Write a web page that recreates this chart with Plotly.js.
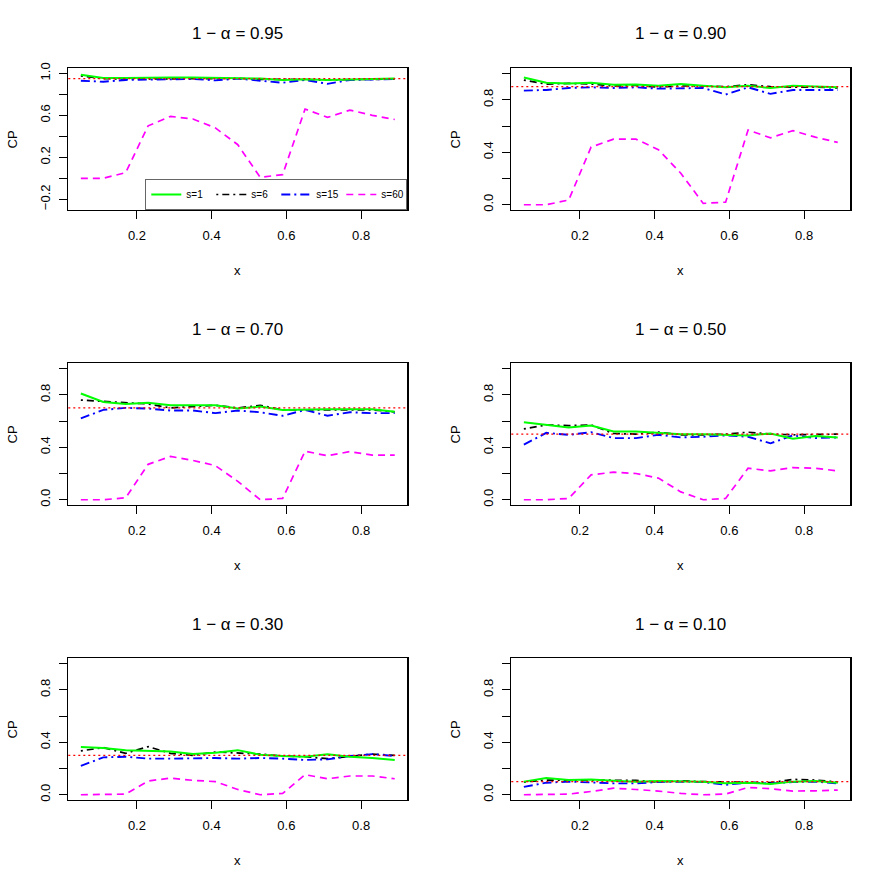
<!DOCTYPE html>
<html>
<head>
<meta charset="utf-8">
<script src="https://cdn.plot.ly/plotly-3.0.1.min.js"></script>
<style>
  html, body { margin: 0; padding: 0; background: #fff; }
  #plot { width: 886px; height: 886px; }
</style>
</head>
<body>
<div id="plot"></div>
<script>
// Coverage probability (CP) against x, one panel per nominal level 1 - alpha.
const X = [0.05, 0.11, 0.17, 0.23, 0.29, 0.35, 0.41, 0.47, 0.53, 0.59, 0.65, 0.71, 0.77, 0.83, 0.89];
const LEVELS = [0.95, 0.90, 0.70, 0.50, 0.30, 0.10];
const SERIES = ["s=1", "s=6", "s=15", "s=60"];

// values, per level
const cp95_s1  = [0.987, 0.955, 0.955, 0.960, 0.960, 0.960, 0.955, 0.952, 0.950, 0.937, 0.943, 0.937, 0.943, 0.946, 0.950];
const cp95_s6  = [0.975, 0.950, 0.946, 0.946, 0.943, 0.946, 0.950, 0.952, 0.943, 0.943, 0.937, 0.937, 0.940, 0.943, 0.946];
const cp95_s15 = [0.930, 0.920, 0.937, 0.940, 0.943, 0.946, 0.933, 0.950, 0.930, 0.910, 0.937, 0.900, 0.937, 0.943, 0.946];
const cp95_s60 = [0.000, 0.000, 0.054, 0.500, 0.590, 0.565, 0.480, 0.320, 0.010, 0.035, 0.660, 0.580, 0.650, 0.600, 0.560];

const cp90_s1  = [0.970, 0.930, 0.925, 0.930, 0.915, 0.917, 0.907, 0.920, 0.907, 0.895, 0.907, 0.890, 0.907, 0.900, 0.895];
const cp90_s6  = [0.950, 0.920, 0.925, 0.920, 0.905, 0.910, 0.897, 0.905, 0.905, 0.900, 0.915, 0.900, 0.897, 0.897, 0.890];
const cp90_s15 = [0.870, 0.875, 0.890, 0.895, 0.890, 0.895, 0.885, 0.890, 0.890, 0.840, 0.895, 0.845, 0.875, 0.875, 0.875];
const cp90_s60 = [0.000, 0.000, 0.036, 0.440, 0.500, 0.500, 0.420, 0.240, 0.010, 0.020, 0.570, 0.510, 0.565, 0.515, 0.475];

const cp70_s1  = [0.810, 0.745, 0.730, 0.740, 0.720, 0.720, 0.720, 0.695, 0.710, 0.685, 0.690, 0.690, 0.690, 0.690, 0.670];
const cp70_s6  = [0.760, 0.750, 0.745, 0.730, 0.700, 0.710, 0.720, 0.700, 0.720, 0.685, 0.685, 0.685, 0.690, 0.685, 0.670];
const cp70_s15 = [0.620, 0.685, 0.700, 0.695, 0.680, 0.680, 0.660, 0.680, 0.667, 0.640, 0.685, 0.640, 0.667, 0.660, 0.660];
const cp70_s60 = [0.000, 0.000, 0.015, 0.270, 0.330, 0.300, 0.260, 0.140, 0.000, 0.010, 0.370, 0.335, 0.367, 0.340, 0.340];

const cp50_s1  = [0.590, 0.570, 0.550, 0.565, 0.520, 0.520, 0.510, 0.500, 0.500, 0.495, 0.490, 0.505, 0.465, 0.485, 0.475];
const cp50_s6  = [0.540, 0.570, 0.565, 0.570, 0.505, 0.500, 0.515, 0.495, 0.495, 0.500, 0.515, 0.500, 0.495, 0.495, 0.500];
const cp50_s15 = [0.420, 0.510, 0.495, 0.515, 0.470, 0.470, 0.495, 0.475, 0.480, 0.490, 0.480, 0.430, 0.490, 0.470, 0.475];
const cp50_s60 = [0.000, 0.000, 0.010, 0.190, 0.210, 0.200, 0.165, 0.060, 0.000, 0.010, 0.240, 0.220, 0.245, 0.240, 0.220];

const cp30_s1  = [0.364, 0.357, 0.340, 0.336, 0.330, 0.310, 0.320, 0.340, 0.305, 0.295, 0.290, 0.308, 0.290, 0.280, 0.265];
const cp30_s6  = [0.334, 0.360, 0.316, 0.367, 0.316, 0.300, 0.326, 0.320, 0.310, 0.295, 0.290, 0.275, 0.295, 0.310, 0.300];
const cp30_s15 = [0.220, 0.285, 0.290, 0.275, 0.275, 0.280, 0.280, 0.275, 0.280, 0.275, 0.265, 0.270, 0.295, 0.310, 0.295];
const cp30_s60 = [0.000, 0.000, 0.005, 0.105, 0.127, 0.110, 0.100, 0.040, 0.000, 0.010, 0.153, 0.122, 0.143, 0.143, 0.122];

const cp10_s1  = [0.100, 0.127, 0.112, 0.117, 0.107, 0.100, 0.104, 0.100, 0.100, 0.087, 0.092, 0.082, 0.100, 0.104, 0.092];
const cp10_s6  = [0.097, 0.112, 0.112, 0.112, 0.107, 0.110, 0.097, 0.107, 0.100, 0.097, 0.092, 0.092, 0.117, 0.112, 0.097];
const cp10_s15 = [0.060, 0.092, 0.100, 0.092, 0.087, 0.087, 0.097, 0.100, 0.097, 0.076, 0.092, 0.087, 0.097, 0.100, 0.087];
const cp10_s60 = [0.000, 0.000, 0.005, 0.025, 0.050, 0.040, 0.028, 0.010, 0.000, 0.005, 0.056, 0.046, 0.028, 0.030, 0.036];

const PANELS = [
  [cp95_s1, cp95_s6, cp95_s15, cp95_s60],
  [cp90_s1, cp90_s6, cp90_s15, cp90_s60],
  [cp70_s1, cp70_s6, cp70_s15, cp70_s60],
  [cp50_s1, cp50_s6, cp50_s15, cp50_s60],
  [cp30_s1, cp30_s6, cp30_s15, cp30_s60],
  [cp10_s1, cp10_s6, cp10_s15, cp10_s60],
];

(function () {
  "use strict";

  const W = 886, H = 886;
  const FONT = "Liberation Sans, Arial, Helvetica, sans-serif";

  // R-ish line styles per series: colour, width, dash
  const STYLE = [
    { color: "#00ff00", width: 2,   dash: "solid" },
    { color: "#000000", width: 1.7, dash: "2px,4px,7px,4px" },
    { color: "#0000ff", width: 1.9, dash: "9px,4px,2px,4px" },
    { color: "#ff00ff", width: 1.7, dash: "7px,5px" },
  ];
  // draw order (green last, on top); legend keeps s=1..s=60
  const DRAW_ORDER = [1, 2, 3, 0];

  // plot boxes in pixels
  const COL_L = [68.3, 511.3], COL_W = 339;
  const ROW_T = [68.3, 363.3, 658.3], ROW_H = 141.7;

  const traces = [];
  const layout = {
    width: W, height: H,
    margin: { l: 0, r: 0, t: 0, b: 0, autoexpand: false },
    paper_bgcolor: "#fff", plot_bgcolor: "#fff",
    font: { family: FONT, size: 13, color: "#000" },
    showlegend: true,
    legend: {
      orientation: "h",
      x: (COL_L[0] + COL_W) / W, xanchor: "right",
      y: 1 - (ROW_T[0] + ROW_H) / H, yanchor: "bottom",
      bgcolor: "#fff", bordercolor: "#666", borderwidth: 1,
      font: { family: FONT, size: 10, color: "#000" },
      entrywidth: 20, entrywidthmode: "pixels",
      traceorder: "normal",
    },
    annotations: [],
    shapes: [],
  };

  LEVELS.forEach((lvl, p) => {
    const row = Math.floor(p / 2), col = p % 2;
    const n = p + 1;
    const xk = n === 1 ? "x" : "x" + n;
    const yk = n === 1 ? "y" : "y" + n;
    const left = COL_L[col], top = ROW_T[row];
    const cx = left + COL_W / 2, cy = top + ROW_H / 2;

    const first = p === 0;
    layout[n === 1 ? "xaxis" : "xaxis" + n] = {
      domain: [left / W, (left + COL_W) / W],
      anchor: yk,
      range: [0.0164, 0.9236],
      tickvals: [0.2, 0.4, 0.6, 0.8],
      ticktext: ["0.2", "0.4", "0.6", "0.8"],
      ticks: "outside", ticklen: 8, tickwidth: 1, tickcolor: "#000",
      ticklabelstandoff: 5,
      showline: true, mirror: true, linecolor: "#000", linewidth: 1.2,
      showgrid: false, zeroline: false,
      tickfont: { family: FONT, size: 13, color: "#000" },
    };
    layout[n === 1 ? "yaxis" : "yaxis" + n] = {
      domain: [1 - (top + ROW_H) / H, 1 - top / H],
      anchor: xk,
      range: first ? [-0.302, 1.048] : [-0.04, 1.04],
      tickvals: first ? [-0.2, 0, 0.2, 0.4, 0.6, 0.8, 1.0] : [0, 0.2, 0.4, 0.6, 0.8, 1.0],
      ticktext: first ? ["\u22120.2", "", "0.2", "", "0.6", "", "1.0"]
                      : ["0.0", "", "0.4", "", "0.8", ""],
      tickangle: -90,
      ticks: "outside", ticklen: 8, tickwidth: 1, tickcolor: "#000",
      ticklabelstandoff: 4,
      showline: true, mirror: true, linecolor: "#000", linewidth: 1.2,
      showgrid: false, zeroline: false,
      tickfont: { family: FONT, size: 13, color: "#000" },
    };

    DRAW_ORDER.forEach((s) => {
      traces.push({
        type: "scatter", mode: "lines",
        x: X, y: PANELS[p][s],
        name: SERIES[s],
        legendrank: s + 1,
        legendgroup: SERIES[s],
        showlegend: first,
        line: { color: STYLE[s].color, width: STYLE[s].width, dash: STYLE[s].dash },
        xaxis: xk, yaxis: yk,
        hoverinfo: "skip",
      });
    });

    // nominal level, dotted red across the panel
    layout.shapes.push({
      type: "line", layer: "above",
      xref: xk + " domain", x0: 0, x1: 1,
      yref: yk, y0: lvl, y1: lvl,
      line: { color: "#ff0000", width: 1.2, dash: "2px,3px" },
    });

    // title and axis labels
    layout.annotations.push({
      text: "1 \u2212 \u03b1 = " + lvl.toFixed(2),
      xref: "paper", yref: "paper", x: cx / W, y: 1 - (top - 34.3) / H,
      xanchor: "center", yanchor: "middle", showarrow: false,
      font: { family: FONT, size: 17, color: "#000" },
    });
    layout.annotations.push({
      text: "x",
      xref: "paper", yref: "paper", x: cx / W, y: 1 - (top + ROW_H + 60) / H,
      xanchor: "center", yanchor: "middle", showarrow: false,
      font: { family: FONT, size: 13, color: "#000" },
    });
    layout.annotations.push({
      text: "CP", textangle: -90,
      xref: "paper", yref: "paper", x: (left - 56) / W, y: 1 - cy / H,
      xanchor: "center", yanchor: "middle", showarrow: false,
      font: { family: FONT, size: 13, color: "#000" },
    });
  });

  Plotly.newPlot("plot", traces, layout, { staticPlot: true, displayModeBar: false });
})();
</script>
</body>
</html>
